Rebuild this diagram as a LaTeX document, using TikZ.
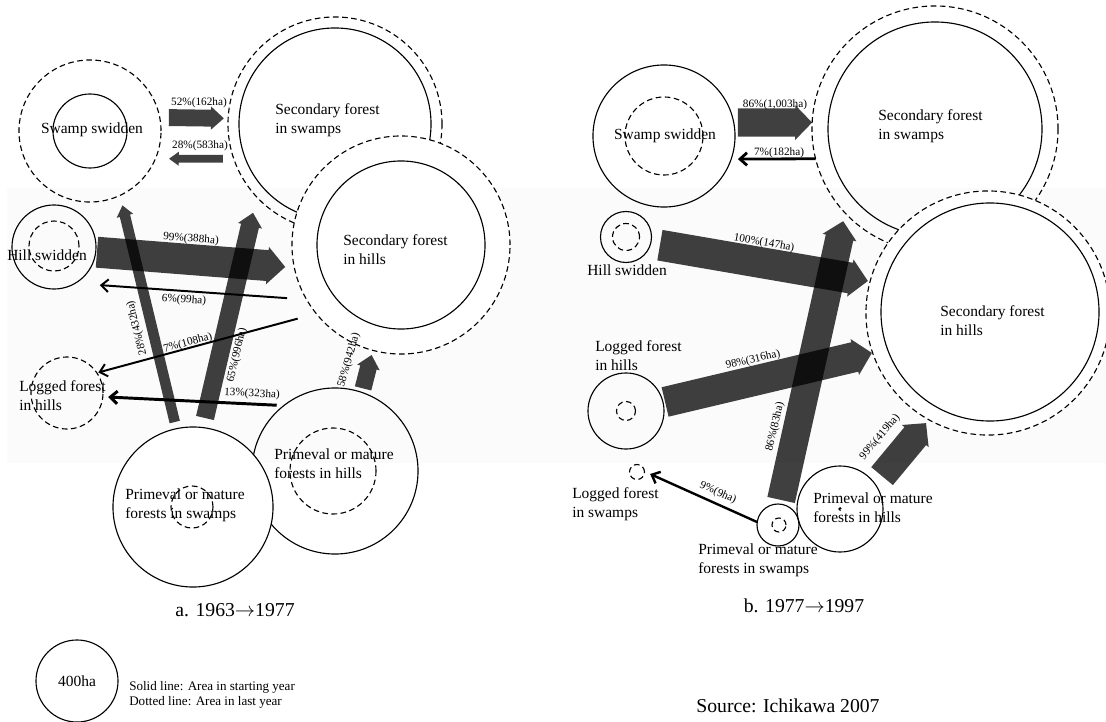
\documentclass[tikz,border=0pt]{standalone}
\usepackage{fontspec}
\setmainfont{Liberation Serif}
\usetikzlibrary{arrows.meta}

% one flow bar, kept in its own group so crossings come out darker
\newcommand{\flowbar}[2]{%
  \begin{scope}[transparency group, opacity=.75]
    \draw[#1] #2;
  \end{scope}}

\begin{document}
\begin{tikzpicture}[
    x=0.025cm, y=-0.025cm,
    startarea/.style={circle, draw, line width=0.8pt, inner sep=0pt, outer sep=0pt, minimum size=#1*0.05cm},
    lastarea/.style={startarea=#1, dash pattern=on 4pt off 2.5pt},
    lbl/.style={font=\fontsize{11}{13.5}\selectfont, align=left, anchor=west, inner sep=0pt},
    pct/.style={font=\fontsize{8}{9}\selectfont, inner sep=0pt},
    caption/.style={font=\fontsize{14}{16}\selectfont, inner sep=0pt},
    bar/.style={line width=#1, -{Triangle[width=4pt 1, length=5pt 0.35]}},
    thinflow/.style={line width=#1, -{Straight Barb[length=5pt, width=9pt]}}
]
    \useasboundingbox (0,0) rectangle (1106,722);
    \fill[black!1.5] (7,188) rectangle (1106,463);

    % a. 1963 -> 1977
    \node[startarea=37] (swsA) at (90,131) {};
    \node[lastarea=71] (swsAd) at (90,131) {};
    \node[startarea=96] (sfsA) at (335,124) {};
    \node[lastarea=107] (sfsAd) at (335,124) {};
    \node[lastarea=109, fill=white] (sfhAd) at (401,245) {};
    \node[startarea=84] (sfhA) at (401,245) {};
    \node[startarea=42] (hswA) at (54,247) {};
    \node[lastarea=25] (hswAd) at (54,246) {};
    \node[lastarea=36] (lfhAd) at (67,393) {};
    \node[startarea=83] (pmhA) at (335,471) {};
    \node[lastarea=43] (pmhAd) at (333,471) {};
    \node[startarea=80, fill=white] (pmsA) at (193,507) {};
    \node[lastarea=21] (pmsAd) at (192,507) {};

    \node[lbl, anchor=center] (swsAl) at (92,130) {Swamp swidden};
    \node[lbl] (sfsAl) at (275,120) {Secondary forest\\in swamps};
    \node[lbl] (sfhAl) at (343,250) {Secondary forest\\in hills};
    \node[lbl] (hswAl) at (7,255) {Hill swidden};
    \node[lbl] (lfhAl) at (19,396) {Logged forest\\in hills};
    \node[lbl] (pmhAl) at (274,464) {Primeval or mature\\forests in hills};
    \node[lbl] (pmsAl) at (125,505) {Primeval or mature\\forests in swamps};

    \flowbar{bar=12pt, shorten <=6.5pt, shorten >=3pt}{(swsAd.11) -- (sfsAd.177)}
    \flowbar{bar=5.5pt, shorten <=7.8pt, shorten >=9.7pt}{(sfsAd.199) -- (swsAd.-23)}
    \flowbar{bar=22pt, shorten <=0.9pt, shorten >=6.5pt}{(hswA.-7) -- (sfhAd.192)}
    \flowbar{bar=7.5pt, shorten <=4.9pt, shorten >=7.3pt}{(pmsA.102) -- (swsAd.-65)}
    \flowbar{bar=13pt, shorten <=7pt, shorten >=11.5pt}{(pmsA.83) -- (sfsAd.223)}
    \flowbar{bar=12pt, shorten <=3pt, shorten >=3.4pt}{(pmhA.71) -- (sfhAd.255)}

    \draw[thinflow=1.4pt, shorten <=13.9pt, shorten >=17.7pt] (sfhAd.210) -- (hswA.-60);
    \draw[thinflow=1.4pt, shorten <=13.7pt, shorten >=1.1pt] (sfhAd.219) -- (lfhAd.34);
    \draw[thinflow=2.1pt, shorten <=5.1pt, shorten >=3.8pt] (pmhA.128) -- (lfhAd.-6);

    \node[pct] (l52) at (199,103) {52\%(162ha)};
    \node[pct] (l28s) at (200,146) {28\%(583ha)};
    \node[pct, rotate=-4] (l99) at (191,239) {99\%(388ha)};
    \node[pct, rotate=-4] (l6) at (184,300) {6\%(99ha)};
    \node[pct, rotate=15] (l7) at (188,343) {7\%(108ha)};
    \node[pct, rotate=-3] (l13) at (252,394) {13\%(323ha)};
    \node[pct, rotate=104] (l28h) at (137,328) {28\%(432ha)};
    \node[pct, rotate=77] (l65) at (237,355) {65\%(996ha)};
    \node[pct, rotate=74] (l58) at (349,360) {58\%(942ha)};

    % b. 1977 -> 1997
    \node[startarea=71] (swsB) at (664,136) {};
    \node[lastarea=39] (swsBd) at (664,136) {};
    \node[startarea=107] (sfsB) at (935,129) {};
    \node[lastarea=123] (sfsBd) at (935,129) {};
    \node[lastarea=122, fill=white] (sfhBd) at (988,313) {};
    \node[startarea=109] (sfhB) at (990,312) {};
    \node[startarea=25.5] (hswB) at (626,237) {};
    \node[lastarea=13.5] (hswBd) at (626,237) {};
    \node[startarea=38] (lfhB) at (626,411) {};
    \node[lastarea=9.5] (lfhBd) at (626,411) {};
    \node[lastarea=7.5] (lfsBd) at (637,472) {};
    \node[startarea=21] (pmsB) at (778,525) {};
    \node[lastarea=7] (pmsBd) at (779,525) {};
    \node[startarea=43] (pmhB) at (840,509) {};
    \node[lastarea=1.2] (pmhBd) at (840,509) {};

    \node[lbl, anchor=center] (swsBl) at (665,136) {Swamp swidden};
    \node[lbl] (sfsBl) at (878,126) {Secondary forest\\in swamps};
    \node[lbl] (sfhBl) at (940,321) {Secondary forest\\in hills};
    \node[lbl] (hswBl) at (587,270) {Hill swidden};
    \node[lbl] (lfhBl) at (595,356) {Logged forest\\in hills};
    \node[lbl] (lfsBl) at (572,504) {Logged forest\\in swamps};
    \node[lbl] (pmsBl) at (698,560) {Primeval or mature\\forests in swamps};
    \node[lbl] (pmhBl) at (813,508) {Primeval or mature\\forests in hills};

    \flowbar{bar=20pt, shorten <=3pt}{(swsB.11) -- (sfsBd.177)}
    \flowbar{bar=22pt, shorten <=6.7pt, shorten >=1.6pt}{(hswB.-15) -- (sfhBd.165)}
    \flowbar{bar=21.5pt, shorten <=1.5pt, shorten >=0.5pt}{(lfhB.13) -- (sfhBd.199)}
    \flowbar{bar=20pt, shorten <=3pt, shorten >=6pt}{(pmsB.84) -- (sfsBd.223)}
    \flowbar{bar=20pt, shorten <=7.6pt, shorten >=3.1pt}{(pmhB.35) -- (sfhBd.241)}

    \draw[thinflow=2pt, shorten >=4.8pt] (sfsBd.194) -- (swsB.-19);
    \draw[thinflow=1.7pt, shorten >=4.4pt] (pmsB.172) -- (lfsBd.4);

    \node[pct] (l86) at (775,105) {86\%(1,003ha)};
    \node[pct] (l7r) at (779,153) {7\%(182ha)};
    \node[pct, rotate=-10] (l100) at (764,243) {100\%(147ha)};
    \node[pct, rotate=13] (l98) at (753,360) {98\%(316ha)};
    \node[pct, rotate=77] (l86h) at (775,427) {86\%(83ha)};
    \node[pct, rotate=50] (l99h) at (880,437) {99\%(419ha)};
    \node[pct, rotate=-24] (l9) at (718,493) {9\%(9ha)};

    % captions and key
    \node[caption] (capA) at (235,610) {a. 1963$\rightarrow$1977};
    \node[caption] (capB) at (804,606) {b. 1977$\rightarrow$1997};
    \node[startarea=41] (key) at (77,681) {};
    \node[lbl, anchor=center] (keyl) at (key) {400ha};
    \node[lbl, font=\fontsize{9.3}{10.7}\selectfont] (keytext) at (129,695) {Solid line: Area in starting year\\Dotted line: Area in last year};
    \node[caption] (src) at (788,706) {Source: Ichikawa 2007};
\end{tikzpicture}
\end{document}
